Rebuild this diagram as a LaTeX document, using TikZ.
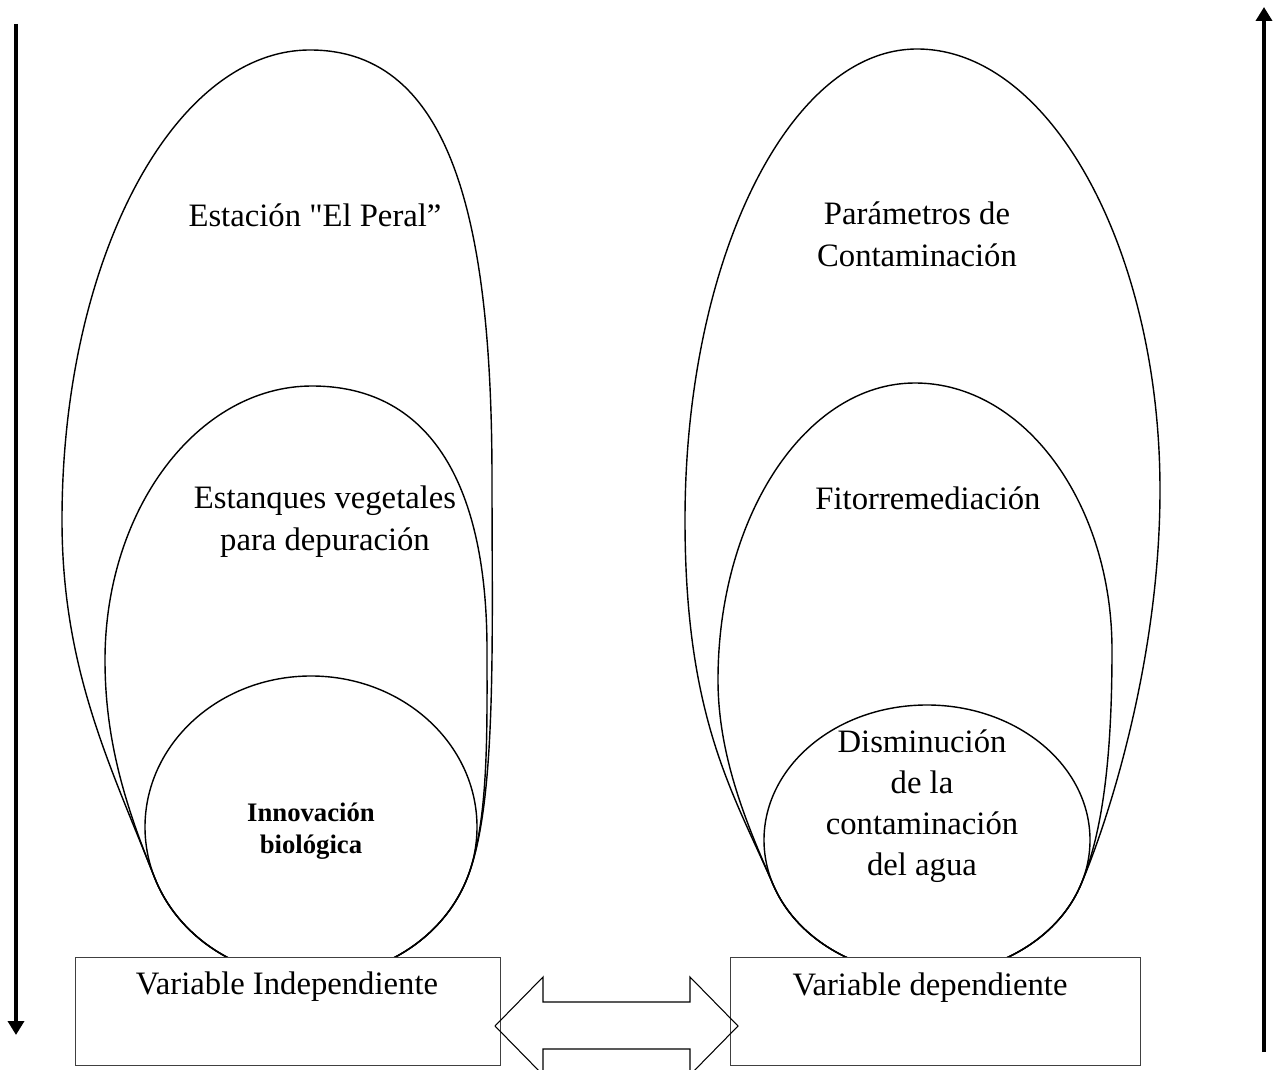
\documentclass[tikz,border=0pt]{standalone}
\usepackage{fontspec}
\setmainfont{Liberation Serif}[Ligatures=TeXOff]
\usetikzlibrary{arrows.meta, positioning}

\begin{document}
\begin{tikzpicture}[x=0.02cm, y=-0.02cm]

\tikzset{shape line/.style = {line width=0.8pt}}
\tikzset{box/.style = {draw=black!75, fill=white, line width=0.6pt, minimum width=8.5cm, minimum height=2.16cm, anchor=north west, inner sep=0pt}}
\tikzset{txt/.style = {font=\fontsize{18.6}{24}\selectfont, align=center, inner sep=0pt}}
\tikzset{bold txt/.style = {font=\bfseries\fontsize{15.2}{18.5}\selectfont, align=center, inner sep=0pt}}
\tikzset{bigarrow/.style = {-{Triangle[length=0.28cm,width=0.32cm]}, line width=2.2pt}}

\useasboundingbox (0,0) rectangle (1282,1070);
\clip (0,0) rectangle (1282,1070);

% left group
\draw[shape line] (311,827) ellipse [x radius=166, y radius=151];
\draw[shape line] (155,878.6) .. controls (111,767) and (62,670) .. (62,520)
  .. controls (62,261) and (173,50) .. (310,50)
  .. controls (455,50) and (492,230) .. (492,480)
  .. controls (492,640) and (497,805) .. (467,878.6)
  arc[start angle=20, end angle=160, x radius=166, y radius=151] -- cycle;
\draw[shape line] (155,878.6) .. controls (125,805) and (105,740) .. (105,660)
  .. controls (105,509) and (198,386) .. (312,386)
  .. controls (426,386) and (487,478) .. (487,650)
  .. controls (487,730) and (489,823) .. (467,878.6)
  arc[start angle=20, end angle=160, x radius=166, y radius=151] -- cycle;

% right group
\draw[shape line] (927,840) ellipse [x radius=163, y radius=135];
\draw[shape line] (773.8,886.2) .. controls (734,794) and (685,720) .. (685,520)
  .. controls (685,260) and (789,49) .. (917,49)
  .. controls (1051,49) and (1160,251) .. (1160,490)
  .. controls (1160,660) and (1108,822) .. (1080.2,886.2)
  arc[start angle=20, end angle=160, x radius=163, y radius=135] -- cycle;
\draw[shape line] (773.8,886.2) .. controls (750,831) and (718,760) .. (718,680)
  .. controls (718,516) and (806,383) .. (915,383)
  .. controls (1024,383) and (1112,503) .. (1112,650)
  .. controls (1112,750) and (1104,831) .. (1080.2,886.2)
  arc[start angle=20, end angle=160, x radius=163, y radius=135] -- cycle;

% labels
\node[txt] (peral) at (315,215) {Estación "El Peral”};
\node[txt] (estanques) at (325,522) {Estanques vegetales\\para depuración};
\node[bold txt] (innovacion) at (311,831) {Innovación\\biológica};
\node[txt] (parametros) at (917,234) {Parámetros de\\Contaminación};
\node[txt] (fito) at (928,498) {Fitorremediación};
\node[txt, font=\fontsize{18.6}{23.3}\selectfont] (disminucion) at (922,806) {Disminución\\de la\\contaminación\\del agua};

% boxes
\node[box] (indep) at (75,957) {};
\node[box, minimum width=8.2cm] (dep) at (730,957) {};
\node[txt] (indeptxt) at (287,987) {Variable Independiente};
\node[txt] (deptxt) at (930,988) {Variable dependiente};

% double arrow between the boxes
\draw[line width=0.6pt] (495,1026) -- (543,977) -- (543,1002) -- (690,1002) -- (690,977)
  -- (738,1026) -- (690,1075) -- (690,1049) -- (543,1049) -- (543,1075) -- cycle;

% side arrows
\coordinate (ltop) at (16,24);
\coordinate (lbot) at (16,1035);
\coordinate (rbot) at (1264,1052);
\coordinate (rtop) at (1264,7);
\draw[bigarrow] (ltop) -- (lbot);
\draw[bigarrow] (rbot) -- (rtop);

\end{tikzpicture}
\end{document}
